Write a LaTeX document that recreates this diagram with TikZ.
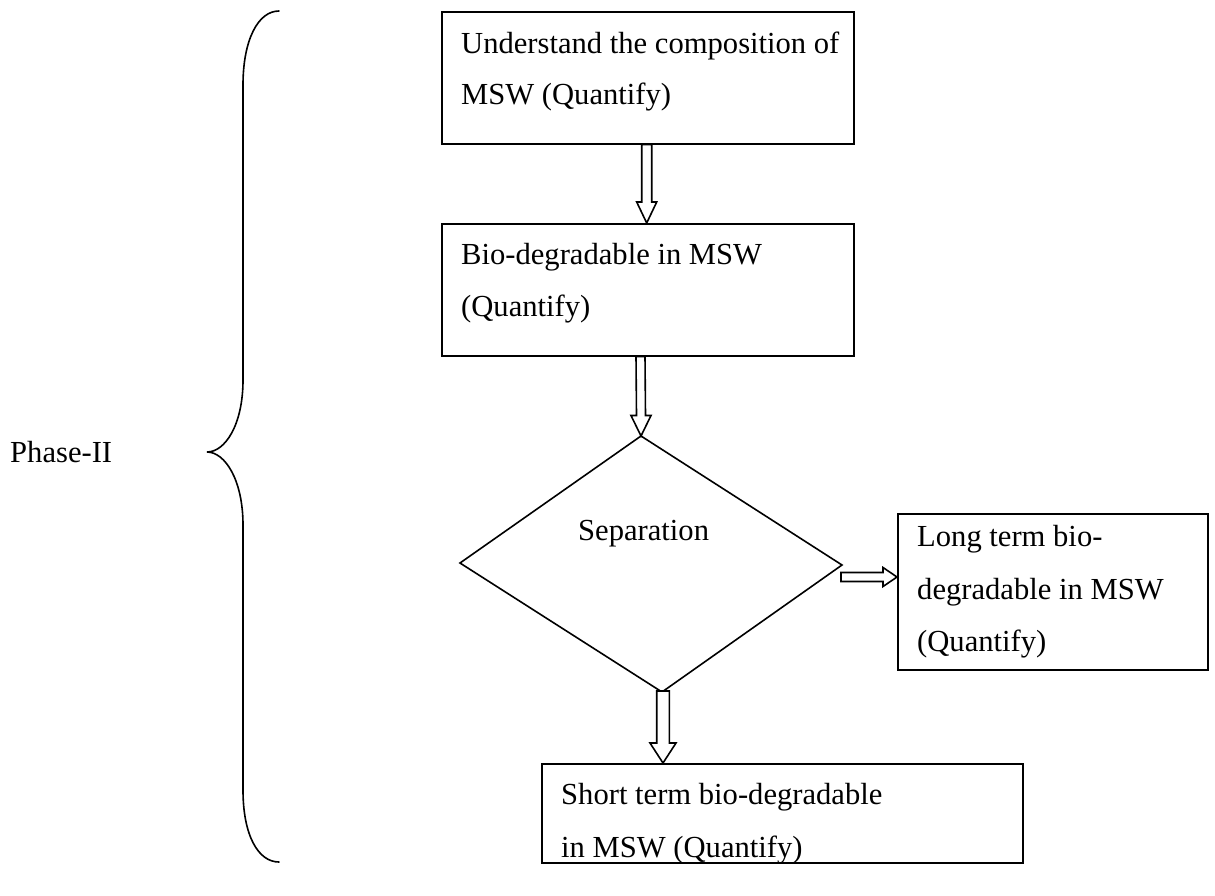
\documentclass[tikz,border=0pt]{standalone}
\usepackage{fontspec}
\setmainfont{Liberation Serif}
\usetikzlibrary{calc}
\tikzset{
  box/.style={draw, line width=1.6pt, rectangle, inner sep=0pt},
  lbl/.style={anchor=base west, inner sep=0pt, font=\fontsize{30.6}{36}\selectfont},
  blk/.style={draw, line width=1.6pt, line join=miter, fill=white},
  brace/.style={draw, line width=1.6pt, line cap=round}
}
% vertical block arrow from #1 (top) down to #2 (tip); #3 shaft half-width, #4 head half-width, #5 head length
\newcommand\blockdown[5]{%
  \path[blk] ($(#1)+(-#3,0)$) -- ($(#2)+(-#3,-#5)$) -- ($(#2)+(-#4,-#5)$) -- (#2)
    -- ($(#2)+(#4,-#5)$) -- ($(#2)+(#3,-#5)$) -- ($(#1)+(#3,0)$) -- cycle;}
% horizontal block arrow from #1 (left) to #2 (tip)
\newcommand\blockright[5]{%
  \path[blk] ($(#1)+(0,-#3)$) -- ($(#2)+(-#5,-#3)$) -- ($(#2)+(-#5,-#4)$) -- (#2)
    -- ($(#2)+(-#5,#4)$) -- ($(#2)+(-#5,#3)$) -- ($(#1)+(0,#3)$) -- cycle;}
\begin{document}
\begin{tikzpicture}[x=1pt, y=-1pt]
\useasboundingbox (0,0) rectangle (1215,895);

% process boxes
\node[box, minimum width=412pt, minimum height=132pt, anchor=north west] (b1) at (441,11) {};
\node[box, minimum width=412pt, minimum height=132pt, anchor=north west] (b2) at (441,223) {};
\node[box, minimum width=310pt, minimum height=156pt, anchor=north west] (b3) at (897,513) {};
\node[box, minimum width=481pt, minimum height=99pt, anchor=north west] (b4) at (541,763) {};

% decision diamond
\coordinate (dT) at (641,436);
\coordinate (dL) at (460,563);
\coordinate (dR) at (842,565);
\coordinate (dB) at (662,692);
\draw[line width=1.6pt, line join=miter] (dT) -- (dR) -- (dB) -- (dL) -- cycle;

% texts
\node[lbl] (t1a) at (461,53) {Understand the composition of};
\node[lbl] (t1b) at (461,104) {MSW (Quantify)};
\node[lbl] (t2a) at (461,264) {Bio-degradable in MSW};
\node[lbl] (t2b) at (461,316) {(Quantify)};
\node[lbl] (td) at (578,540) {Separation};
\node[lbl] (t3a) at (917,546) {Long term bio-};
\node[lbl] (t3b) at (917,599) {degradable in MSW};
\node[lbl] (t3c) at (917,651) {(Quantify)};
\node[lbl] (t4a) at (561,804) {Short term bio-degradable};
\node[lbl] (t4b) at (561,857) {in MSW (Quantify)};
\node[lbl] (ph) at (10,462) {Phase-II};

% block arrows
\coordinate (a1s) at (b1.south -| 646.7,0);
\coordinate (a1e) at (b2.north -| 646.7,0);
\blockdown{a1s}{a1e}{5}{10}{21}
\coordinate (a2s) at (b2.south -| 640.5,0);
\blockdown{a2s}{dT}{4.5}{10}{20.5}
\coordinate (a3s) at (841,577);
\coordinate (a3e) at (b3.west |- 0,577);
\blockright{a3s}{a3e}{4.5}{9.5}{14}
\coordinate (a4s) at (663,691);
\coordinate (a4e) at (b4.north -| 663,0);
\blockdown{a4s}{a4e}{6.3}{13}{20}

% curly brace for the phase
\draw[brace] (279,11) .. controls (258,11) and (243,40) .. (243,85)
  -- (243,380) .. controls (243,425) and (225,452) .. (207,452)
  .. controls (225,452) and (243,480) .. (243,525)
  -- (243,790) .. controls (243,835) and (258,862) .. (279,862);
\end{tikzpicture}
\end{document}
